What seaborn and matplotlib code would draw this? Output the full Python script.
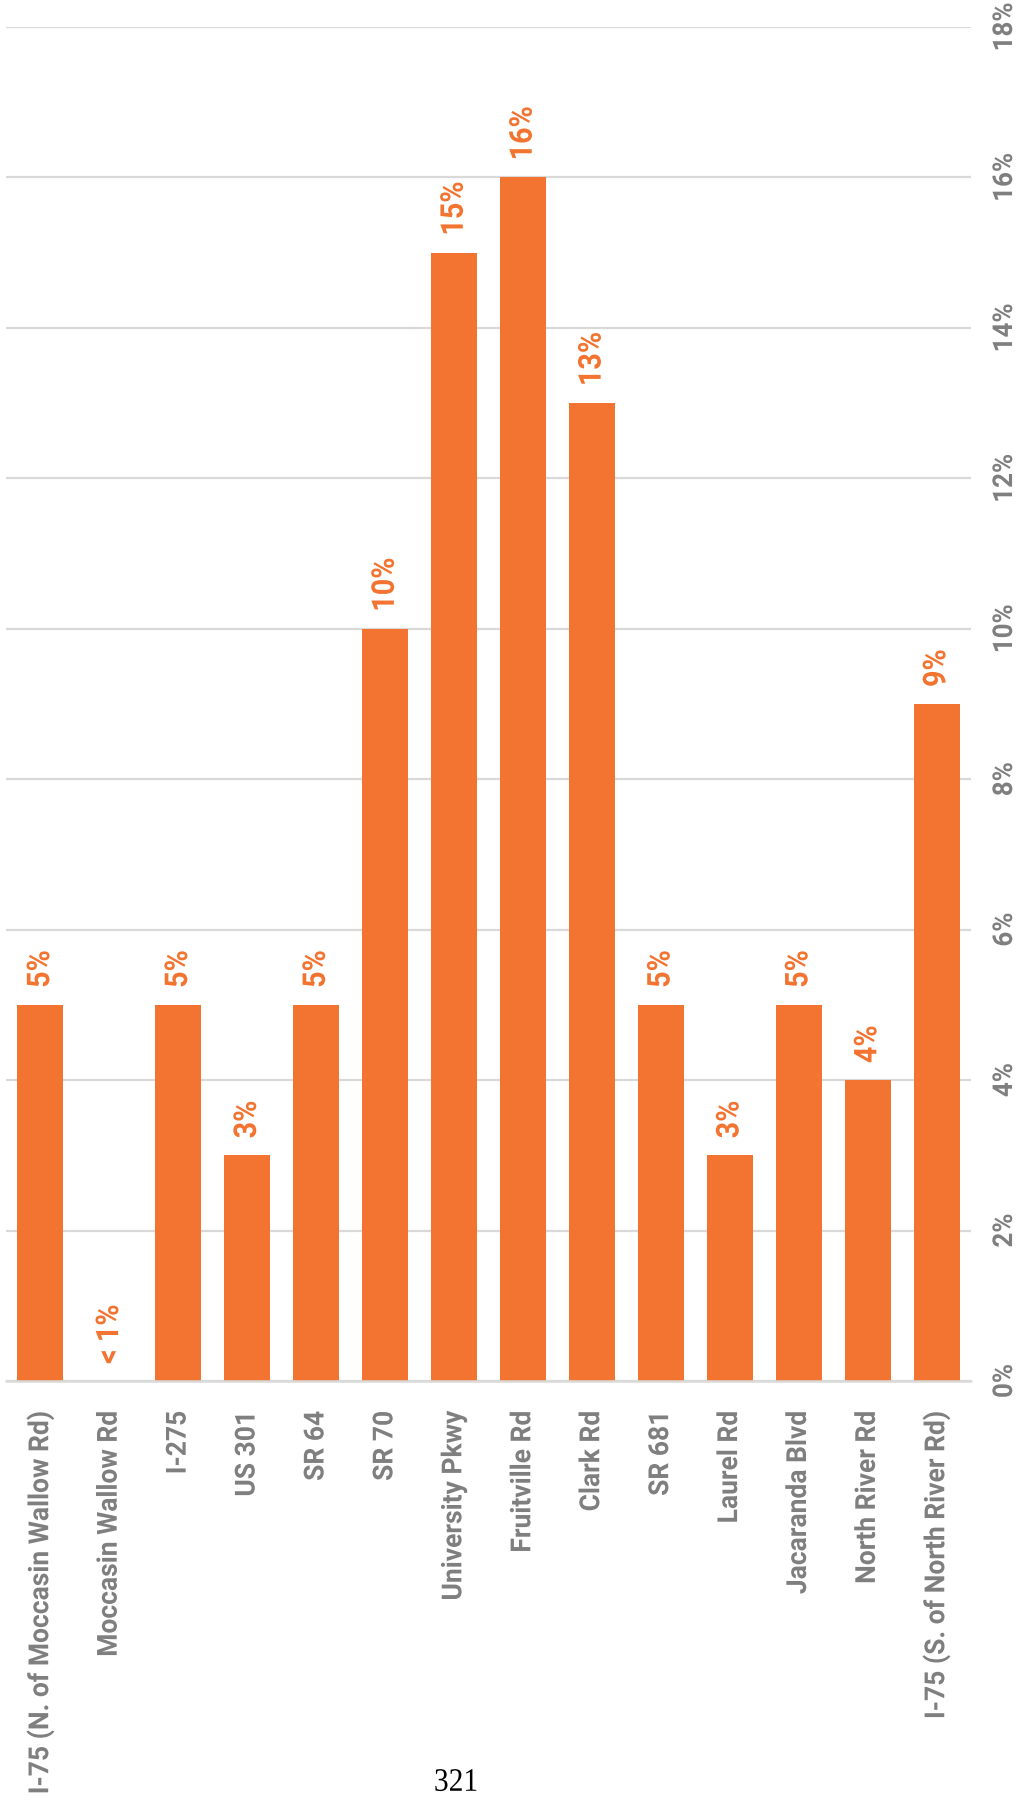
import matplotlib
matplotlib.use("Agg")
import matplotlib.pyplot as plt
from matplotlib import font_manager, transforms
from matplotlib.font_manager import FontProperties
from matplotlib.patheffects import AbstractPathEffect
from matplotlib.textpath import TextPath
from matplotlib.transforms import Affine2D
import seaborn as sns
import pandas as pd

# Share of trips by roadway crossing
roads = [
    "I-75 (N. of Moccasin Wallow Rd)",
    "Moccasin Wallow Rd",
    "I-275",
    "US 301",
    "SR 64",
    "SR 70",
    "University Pkwy",
    "Fruitville Rd",
    "Clark Rd",
    "SR 681",
    "Laurel Rd",
    "Jacaranda Blvd",
    "North River Rd",
    "I-75 (S. of North River Rd)",
]
shares = [5, 0, 5, 3, 5, 10, 15, 16, 13, 5, 3, 5, 4, 9]
share_labels = ["5%", "< 1%", "5%", "3%", "5%", "10%", "15%", "16%",
                "13%", "5%", "3%", "5%", "4%", "9%"]
y_ticks = [0, 2, 4, 6, 8, 10, 12, 14, 16, 18]
y_tick_labels = ["0%", "2%", "4%", "6%", "8%", "10%", "12%", "14%", "16%", "18%"]
page_number = "321"

ORANGE = "#F37430"
GREY = "#7F7F7F"
GRID = "#D9D9D9"
DPI = 100
W, H = 1018, 1807

sns.set_theme(style="white")
plt.rcParams["font.family"] = ["DejaVu Sans"]

names = {f.name for f in font_manager.fontManager.ttflist}
sans_bold = FontProperties(family="Roboto" if "Roboto" in names else "DejaVu Sans",
                           weight="bold")
serif = FontProperties(family="Liberation Serif" if "Liberation Serif" in names
                       else "DejaVu Serif")


class Heighten(AbstractPathEffect):
    """Stretch glyphs across the reading direction about the text's anchor,
    giving a tall, condensed look."""

    def __init__(self, text, factor):
        super().__init__()
        self.text = text
        self.factor = factor

    def draw_path(self, renderer, gc, tpath, affine, rgbFace=None):
        t = self.text
        px, py = t.get_transform().transform(t.get_position())
        ang = t.get_rotation()
        stretch = (Affine2D().translate(-px, -py).rotate_deg(-ang)
                   .scale(1.0, self.factor).rotate_deg(ang).translate(px, py))
        renderer.draw_path(gc, tpath, affine + stretch, rgbFace)


def ink(text, prop):
    ext = TextPath((0, 0), text, size=10, prop=prop).get_extents()
    return ext.width / 10, ext.height / 10


def fit(text, prop, height_px, length_px):
    """Font size (pt) giving the ink length, and the stretch giving the ink height."""
    w, h = ink(text, prop)
    size_px = length_px / w
    return size_px * 72 / DPI, height_px / (h * size_px)


cat_size, cat_stretch = fit("North River Rd", sans_bold, 21, 170)
tick_size, tick_stretch = fit("2%", sans_bold, 20, 32)
val_size, val_stretch = fit("5%", sans_bold, 23, 35)
page_size, page_stretch = fit(page_number, serif, 22, 41)


def px_offset(base, dx=0, dy=0):
    return transforms.offset_copy(base, fig=fig, x=dx, y=dy, units="dots")


def place(x, y, s, trans, size, stretch, prop, **kw):
    t = ax.text(x, y, s, transform=trans, fontproperties=prop, fontsize=size, **kw)
    t.set_path_effects([Heighten(t, stretch)])
    return t


fig = plt.figure(figsize=(W / DPI, H / DPI), dpi=DPI)
fig.patch.set_facecolor("white")
ax = fig.add_axes([6 / W, 1 - 1381 / H, 965 / W, 1354 / H])

df = pd.DataFrame({"road": roads, "share": shares})
sns.barplot(data=df, x="road", y="share", color=ORANGE, saturation=1,
            width=0.667, linewidth=0, ax=ax)

ax.set_xlim(-0.5, len(roads) - 0.5)
ax.set_ylim(0, 18)
ax.set_xlabel("")
ax.set_ylabel("")
ax.set_yticks(y_ticks)
ax.tick_params(axis="both", length=0, labelbottom=False, labelleft=False,
               labelright=False)

for s in ax.spines.values():
    s.set_visible(False)
ax.grid(axis="y", color=GRID, linewidth=1.6)
ax.grid(axis="x", visible=False)
ax.set_axisbelow(True)
ax.axhline(0, color=GRID, linewidth=1.8, clip_on=False, zorder=3)

# category names under the bars, reading upward, ending just below the axis
cat_trans = px_offset(ax.transData, dy=-30)
for i, road in enumerate(roads):
    place(i, 0, road, cat_trans, cat_size, cat_stretch, sans_bold,
          rotation=90, rotation_mode="anchor", ha="right", va="center",
          color=GREY, clip_on=False)

# percentage scale on the right side
tick_trans = px_offset(transforms.blended_transform_factory(ax.transAxes, ax.transData), dx=21)
for v, lab in zip(y_ticks, y_tick_labels):
    place(1, v, lab, tick_trans, tick_size, tick_stretch, sans_bold,
          rotation=90, rotation_mode="anchor", ha="center", va="top",
          color=GREY, clip_on=False)

# value labels above each bar
val_trans = px_offset(ax.transData, dy=17)
for i, (v, lab) in enumerate(zip(shares, share_labels)):
    place(i, v, lab, val_trans, val_size, val_stretch, sans_bold,
          rotation=90, rotation_mode="anchor", ha="left", va="center",
          color=ORANGE, clip_on=False)

# page number
place(456 / W, 1 - 1783 / H, page_number, fig.transFigure, page_size, page_stretch,
      serif, ha="center", va="center", color="black", clip_on=False)

fig.savefig("out.png", dpi=DPI, facecolor="white")
